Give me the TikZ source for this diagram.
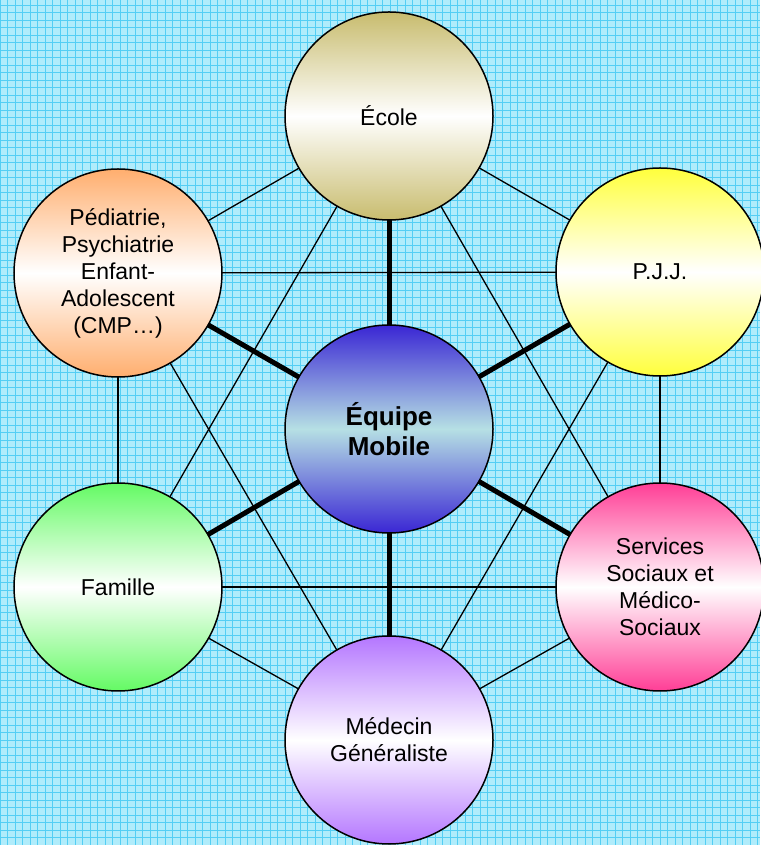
\documentclass[tikz,border=0pt]{standalone}
\usepackage{fontspec}
\setmainfont{Liberation Sans}
\usepackage{tikz}
\usetikzlibrary{shapes}

\definecolor{bgcyan}{RGB}{176,236,251}
\definecolor{gridcyan}{RGB}{84,206,244}
\definecolor{ecoletan}{RGB}{200,188,110}
\definecolor{pediaorange}{RGB}{255,174,110}
\definecolor{pjjyellow}{RGB}{255,255,60}
\definecolor{equipeblue}{RGB}{58,38,212}
\definecolor{equipemid}{RGB}{182,224,228}
\definecolor{famillegreen}{RGB}{100,250,100}
\definecolor{servicespink}{RGB}{255,62,150}
\definecolor{medecinpurple}{RGB}{180,118,255}

\pgfdeclarelayer{bg}
\pgfdeclarelayer{links}
\pgfsetlayers{bg,links,main}

\begin{document}
\begin{tikzpicture}[x=1pt,y=1pt,
    disc/.style={circle,draw,line width=1.5pt,minimum size=208pt,inner sep=0pt,
        align=center,font=\fontsize{23}{27}\selectfont,
        top color=#1,bottom color=#1,middle color=white},
    thin link/.style={line width=1.3pt},
    spoke/.style={line width=5pt}]
\useasboundingbox (0,0) rectangle (760,845);

% outer ring
\node [disc=ecoletan] (ecole) at (389,729) {École};
\node [disc=pediaorange] (pedia) at (118,572)
    {Pédiatrie,\\Psychiatrie\\Enfant-\\Adolescent\\(CMP…)};
\node [disc=pjjyellow] (pjj) at (660,573) {P.J.J.};
\node [disc=famillegreen] (famille) at (118,258) {Famille};
\node [disc=servicespink] (services) at (660,258)
    {Services\\Sociaux et\\Médico-\\Sociaux};
\node [disc=medecinpurple] (medecin) at (389,105) {Médecin\\Généraliste};
% centre
\node [disc=equipeblue,middle color=equipemid,
       font=\bfseries\fontsize{26}{30}\selectfont] (equipe) at (389,416)
    {Équipe\\Mobile};

\begin{pgfonlayer}{bg}
\fill[bgcyan] (0,0) rectangle (760,845);
\draw[gridcyan,line width=0.8pt,step=7.5pt] (0,0) grid (760,845);
\end{pgfonlayer}

\begin{pgfonlayer}{links}
\foreach \a/\b in {ecole/pedia,ecole/pjj,ecole/famille,ecole/services,
    pedia/pjj,pedia/famille,pedia/medecin,pjj/services,pjj/medecin,
    famille/services,famille/medecin,services/medecin}
    \draw[thin link] (\a.center) -- (\b.center);
\foreach \b in {ecole,pedia,pjj,famille,services,medecin}
    \draw[spoke] (equipe.center) -- (\b.center);
\end{pgfonlayer}
\end{tikzpicture}
\end{document}
